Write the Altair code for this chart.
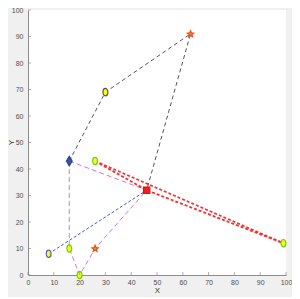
import altair as alt
import pandas as pd

# node coordinates
px = [16, 46, 30, 63, 26, 99, 8, 16, 20, 26]
py = [43, 32, 69, 91, 43, 12, 8, 10, 0, 10]
kinds = ["diamond", "square", "yk", "star", "yg", "yg", "yb", "yg", "yg", "star"]

# paths by node index
paths = {
    "black1": [0, 2, 3, 1],
    "pink1": [0, 1],
    "pink2": [0, 7, 8, 9, 1],
    "blue1": [6, 1],
    "red1": [4, 5],
    "red2": [4, 1, 5],
}
ticks = list(range(0, 101, 10))

rows = []
for name, idx in paths.items():
    for k, i in enumerate(idx):
        rows.append({"x": px[i], "y": py[i], "path": name, "grp": name[:-1], "ord": k})
lines = pd.DataFrame(rows)
pts = pd.DataFrame({"x": px, "y": py, "kind": kinds})
tk = pd.DataFrame({"t": ticks})

xs = alt.Scale(domain=[0, 100], nice=False)
ys = alt.Scale(domain=[0, 100], nice=False)
axis_common = dict(labelFont="Liberation Sans", labelFontSize=7, labelColor="#4d4d4d",
                   domainColor="#8c8c8c", tickSize=0, grid=False, values=ticks,
                   labelOverlap=False, labelBound=False, labelFlush=False,
                   titleFont="Liberation Sans", titleFontSize=8, titleFontWeight="normal",
                   titleColor="#333333")
xaxis = alt.Axis(title="X", labelPadding=3, titleX=129, titleY=15,
                 titleBaseline="middle", **axis_common)
yaxis = alt.Axis(title="Y", labelPadding=5, titleX=-17, titleY=132,
                 titleBaseline="middle", titleAngle=-90, **axis_common)
X = alt.X("x:Q", scale=xs, axis=xaxis)
Y = alt.Y("y:Q", scale=ys, axis=yaxis)

styles = {
    "black": dict(color="#555555", strokeDash=[4, 3], strokeWidth=1),
    "pink": dict(color="#d27ad2", strokeDash=[5, 3], strokeWidth=1),
    "blue": dict(color="#4a5cc4", strokeDash=[3, 2], strokeWidth=1),
    "red": dict(color="#ff2a2a", strokeDash=[3, 2], strokeWidth=1.8),
}
layers = []
for g, st in styles.items():
    layers.append(
        alt.Chart(lines).transform_filter(alt.datum.grp == g).mark_line(**st).encode(
            x=X, y=Y, detail="path:N", order="ord:Q")
    )

ell = "M-0.65,0A0.65,1 0 1,1 0.65,0A0.65,1 0 1,1 -0.65,0Z"
dia = "M0,-1L0.6,0L0,1L-0.6,0Z"
star = "M0,-1L0.3,-0.3L1,-0.2L0.45,0.25L0.6,0.9L0,0.5L-0.6,0.9L-0.45,0.25L-1,-0.2L-0.3,-0.3Z"
mstyles = {
    "diamond": dict(shape=dia, fill="#3a55a8", stroke="#2a3f8a", size=90),
    "square": dict(shape="square", fill="#ee2020", stroke="#dd1010", size=40),
    "yk": dict(shape=ell, fill="#ffff00", stroke="#555555", size=55),
    "star": dict(shape=star, fill="#ff9020", stroke="#e05020", size=40),
    "yg": dict(shape=ell, fill="#ffff00", stroke="#66cc33", size=55),
    "yb": dict(shape=ell, fill="#ffff00", stroke="#5060d0", size=55),
}
for k, st in mstyles.items():
    layers.append(
        alt.Chart(pts).transform_filter(alt.datum.kind == k).mark_point(
            filled=True, strokeWidth=1.2, opacity=1, **st).encode(x=X, y=Y)
    )

# inward ticks
layers.append(alt.Chart(tk).mark_tick(orient="vertical", size=3, color="#8c8c8c", thickness=1, yOffset=-1.5)
              .encode(x=alt.X("t:Q", scale=xs, axis=xaxis), y=alt.YDatum(0, scale=ys, axis=yaxis)))
layers.append(alt.Chart(tk).mark_tick(orient="horizontal", size=3, color="#8c8c8c", thickness=1, xOffset=1.5)
              .encode(y=alt.Y("t:Q", scale=ys, axis=yaxis), x=alt.XDatum(0, scale=xs, axis=xaxis)))

chart = alt.layer(*layers).properties(
    width=258, height=265,
    autosize=alt.AutoSizeParams(type="none"),
    padding={"left": 20, "top": 2, "right": 6, "bottom": 22},
    background="#f0f0f0",
).configure_view(fill="white", stroke=None)

chart.save("out.html", embed_options={"renderer": "svg", "actions": False})
